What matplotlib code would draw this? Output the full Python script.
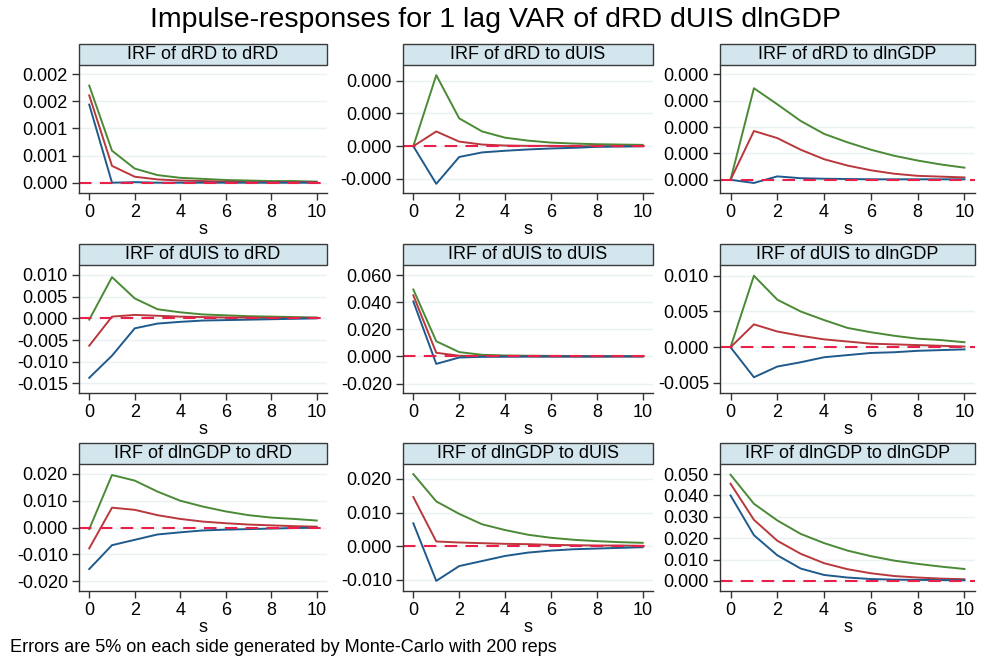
import matplotlib
matplotlib.use("Agg")
import matplotlib.pyplot as plt
from matplotlib.patches import Rectangle
import numpy as np

plt.rcParams["font.family"] = ["Liberation Sans", "DejaVu Sans"]

steps = np.arange(11)

titles = [
    "IRF of dRD to dRD", "IRF of dRD to dUIS", "IRF of dRD to dlnGDP",
    "IRF of dUIS to dRD", "IRF of dUIS to dUIS", "IRF of dUIS to dlnGDP",
    "IRF of dlnGDP to dRD", "IRF of dlnGDP to dUIS", "IRF of dlnGDP to dlnGDP",
]

# upper bound, point estimate, lower bound for each panel
upper = [
    [0.00179, 0.00059, 0.00026, 0.00014, 0.00009, 0.00007, 0.00005, 0.00004, 0.00003, 0.00003, 0.00002],
    [0.0, 0.000217, 0.000085, 0.000045, 0.000026, 0.000017, 0.000011, 0.000008, 0.000006, 0.000005, 0.000004],
    [0.0, 0.000347, 0.000286, 0.000223, 0.000174, 0.000142, 0.000114, 0.000091, 0.000073, 0.000058, 0.000046],
    [-0.0003, 0.0095, 0.0046, 0.0021, 0.0014, 0.0009, 0.0007, 0.0005, 0.0004, 0.0003, 0.0002],
    [0.0494, 0.0112, 0.0032, 0.0012, 0.0007, 0.0005, 0.0004, 0.0003, 0.0002, 0.0002, 0.0002],
    [0.0, 0.0100, 0.00665, 0.0050, 0.0038, 0.0027, 0.0021, 0.0016, 0.0012, 0.0010, 0.0007],
    [-0.0006, 0.0196, 0.0175, 0.0134, 0.0100, 0.0078, 0.0060, 0.0046, 0.0037, 0.0032, 0.0026],
    [0.0214, 0.0133, 0.0096, 0.0065, 0.0048, 0.0034, 0.0025, 0.0019, 0.0015, 0.0012, 0.0010],
    [0.0497, 0.0361, 0.0283, 0.0220, 0.0177, 0.0142, 0.0116, 0.0095, 0.0080, 0.0067, 0.0056],
]
irf = [
    [0.00161, 0.00031, 0.00011, 0.00006, 0.00004, 0.00003, 0.00002, 0.00001, 0.00001, 0.00001, 0.00001],
    [0.0, 0.000045, 0.000014, 0.000005, 0.000002, 0.000001, 0.000001, 0.0, 0.0, 0.0, 0.0],
    [0.0, 0.000185, 0.000158, 0.000114, 0.000078, 0.000054, 0.000036, 0.000023, 0.000015, 0.000012, 0.000009],
    [-0.0063, 0.0004, 0.0008, 0.0006, 0.0004, 0.0003, 0.0002, 0.0002, 0.0001, 0.0001, 0.0001],
    [0.0451, 0.0027, 0.0005, 0.0002, 0.0001, 0.0001, 0.0, 0.0, 0.0, 0.0, 0.0],
    [0.0, 0.0032, 0.0022, 0.0016, 0.0011, 0.0008, 0.0005, 0.0004, 0.0003, 0.0002, 0.0001],
    [-0.0078, 0.0074, 0.0066, 0.0046, 0.0032, 0.0022, 0.0016, 0.0011, 0.0008, 0.0005, 0.0003],
    [0.0146, 0.0014, 0.0011, 0.0009, 0.0007, 0.0006, 0.0004, 0.0003, 0.0002, 0.0002, 0.0001],
    [0.0455, 0.0286, 0.0188, 0.0127, 0.0083, 0.0055, 0.0036, 0.0023, 0.0016, 0.0011, 0.0008],
]
lower = [
    [0.00144, 0.0, 0.00001, 0.0, 0.0, 0.0, 0.0, 0.0, 0.0, 0.0, 0.0],
    [0.0, -0.000115, -0.000033, -0.000019, -0.000014, -0.00001, -0.000007, -0.000005, -0.000002, -0.000001, 0.0],
    [0.0, -0.000012, 0.000013, 0.000006, 0.000004, 0.000003, 0.000002, 0.000002, 0.000002, 0.000002, 0.000002],
    [-0.0137, -0.0086, -0.0023, -0.0012, -0.0008, -0.0005, -0.0004, -0.0003, -0.0002, -0.0001, 0.0],
    [0.0406, -0.0055, -0.0008, -0.0003, -0.0002, -0.0001, -0.0001, -0.0001, -0.0001, 0.0, 0.0],
    [0.0, -0.0042, -0.0027, -0.0021, -0.0014, -0.0011, -0.0008, -0.0007, -0.0005, -0.0004, -0.0003],
    [-0.0155, -0.0066, -0.0046, -0.0026, -0.0018, -0.0011, -0.0008, -0.0006, -0.0004, -0.0002, -0.0001],
    [0.0068, -0.0103, -0.0059, -0.0044, -0.0029, -0.0019, -0.0013, -0.0009, -0.0007, -0.0005, -0.0003],
    [0.0400, 0.0214, 0.0120, 0.0058, 0.0028, 0.0016, 0.0009, 0.0006, 0.0005, 0.0004, 0.0003],
]

ytick_vals = [
    [0.0, 0.0005, 0.001, 0.0015, 0.002],
    [-0.0001, 0.0, 0.0001, 0.0002],
    [0.0, 0.0001, 0.0002, 0.0003, 0.0004],
    [-0.015, -0.010, -0.005, 0.0, 0.005, 0.010],
    [-0.020, 0.0, 0.020, 0.040, 0.060],
    [-0.005, 0.0, 0.005, 0.010],
    [-0.020, -0.010, 0.0, 0.010, 0.020],
    [-0.010, 0.0, 0.010, 0.020],
    [0.0, 0.010, 0.020, 0.030, 0.040, 0.050],
]
ytick_labels = [
    ["0.000", "0.001", "0.001", "0.002", "0.002"],
    ["-0.000", "0.000", "0.000", "0.000"],
    ["0.000", "0.000", "0.000", "0.000", "0.000"],
    ["-0.015", "-0.010", "-0.005", "0.000", "0.005", "0.010"],
    ["-0.020", "0.000", "0.020", "0.040", "0.060"],
    ["-0.005", "0.000", "0.005", "0.010"],
    ["-0.020", "-0.010", "0.000", "0.010", "0.020"],
    ["-0.010", "0.000", "0.010", "0.020"],
    ["0.000", "0.010", "0.020", "0.030", "0.040", "0.050"],
]
ylims = [
    (-0.00019, 0.00217),
    (-0.000143, 0.000248),
    (-0.00005, 0.000435),
    (-0.0172, 0.0123),
    (-0.027, 0.0675),
    (-0.0064, 0.0115),
    (-0.0237, 0.0237),
    (-0.0133, 0.0244),
    (-0.0047, 0.0547),
]

W, H = 992, 664
fig = plt.figure(figsize=(W / 100, H / 100), dpi=100)
fig.patch.set_facecolor("white")

col_left = [79, 403, 720]
col_right = [327, 653, 975]
row_top = [44, 244, 443]
head_h = 21
ax_bottom = [193, 393, 591]

c_up, c_irf, c_lo, c_zero = "#4a8a35", "#b8383c", "#1f5a8c", "#e8204a"

for i in range(9):
    r, c = divmod(i, 3)
    x0, x1 = col_left[c], col_right[c]
    top = row_top[r] + head_h
    bot = ax_bottom[r]
    ax = fig.add_axes([x0 / W, 1 - bot / H, (x1 - x0) / W, (bot - top) / H])

    ax.plot(steps, upper[i], color=c_up, lw=1.4)
    ax.plot(steps, irf[i], color=c_irf, lw=1.4)
    ax.plot(steps, lower[i], color=c_lo, lw=1.4)
    ax.axhline(0, color=c_zero, lw=1.5, ls=(0, (6, 4)), zorder=2.5)

    ax.set_xlim(-0.45, 10.45)
    ax.set_ylim(*ylims[i])
    ax.set_xticks([0, 2, 4, 6, 8, 10])
    ax.set_yticks(ytick_vals[i])
    ax.set_yticklabels(ytick_labels[i])
    ax.tick_params(labelsize=13, length=5, width=1, color="#333333", pad=3)
    ax.set_xlabel("s", fontsize=13, labelpad=0)
    ax.grid(axis="y", color="#eaf1f4", lw=1, zorder=0)
    ax.set_axisbelow(True)
    for side in ("top", "right"):
        ax.spines[side].set_visible(False)
    for side in ("left", "bottom"):
        ax.spines[side].set_color("#333333")
        ax.spines[side].set_linewidth(1)

    fig.patches.append(Rectangle(
        (x0 / W, 1 - top / H), (x1 - x0) / W, head_h / H,
        transform=fig.transFigure, facecolor="#d3e6ed", edgecolor="#3a3a3a", lw=1))
    fig.text((x0 + x1) / 2 / W, 1 - (row_top[r] + head_h / 2) / H, titles[i],
             ha="center", va="center", fontsize=13)

fig.text(0.5, 1 - 20 / H, "Impulse-responses for 1 lag VAR of dRD dUIS dlnGDP",
         ha="center", va="center", fontsize=20.5)
fig.text(10 / W, 1 - 648 / H,
         "Errors are 5% on each side generated by Monte-Carlo with 200 reps",
         ha="left", va="center", fontsize=13.1)

fig.savefig("out.png", dpi=100)
